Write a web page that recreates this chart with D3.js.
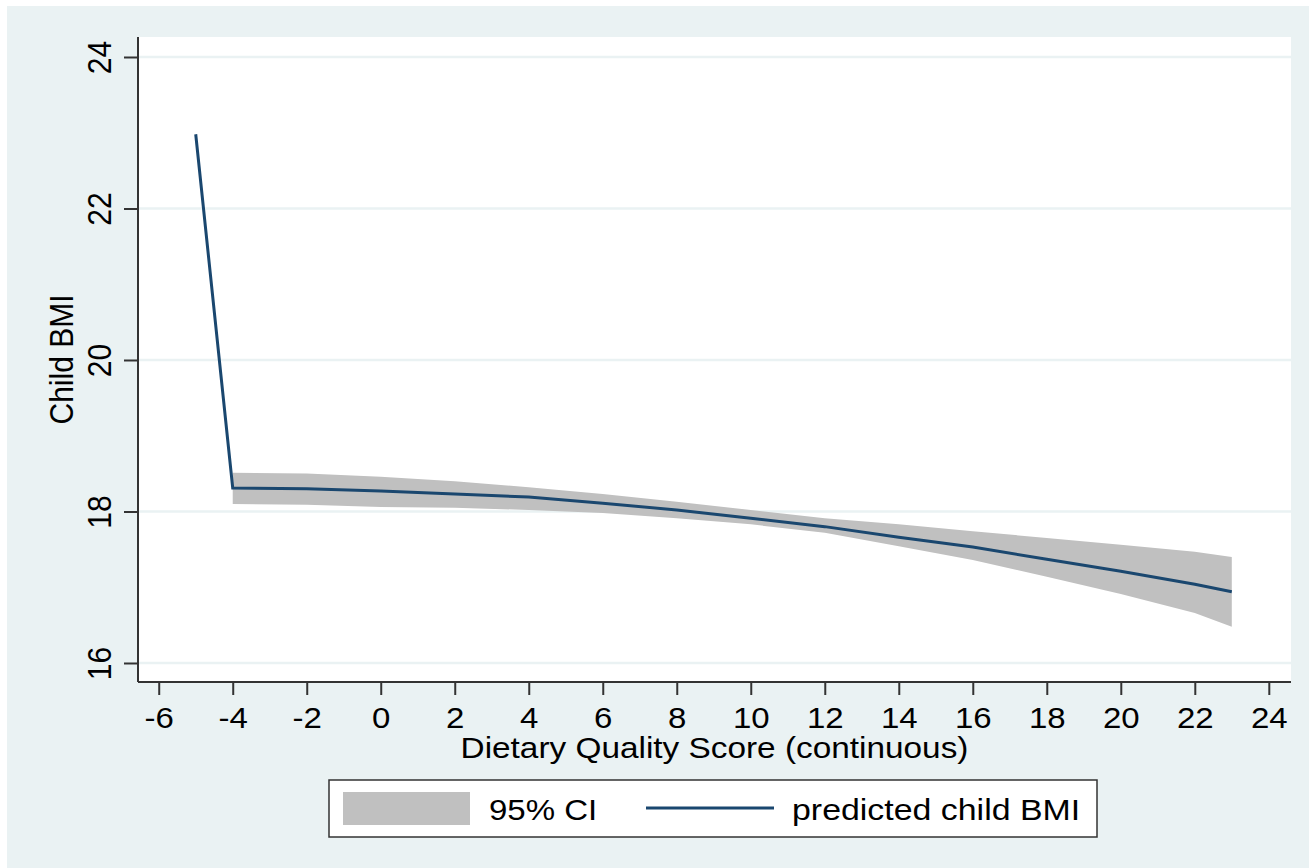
<!DOCTYPE html>
<html>
<head>
<meta charset="utf-8">
<script src="https://cdn.jsdelivr.net/npm/d3@7"></script>
<style>
  body { margin: 0; background: #ffffff; }
  text { font-family: "Liberation Sans", Arial, sans-serif; fill: #000; }
</style>
</head>
<body>
<div id="chart"></div>
<script>
// predicted line (score, child BMI)
const lineScore = [-5, -4, -2, 0, 2, 4, 6, 8, 10, 12, 14, 16, 18, 20, 22, 23];
const lineBMI   = [22.98, 18.31, 18.30, 18.27, 18.23, 18.19, 18.11, 18.02, 17.91, 17.80, 17.66, 17.53, 17.37, 17.21, 17.04, 16.94];

// 95% CI band
const ciScore = [-4, -2, 0, 2, 4, 6, 8, 10, 12, 14, 16, 18, 20, 22, 23];
const ciUpper = [18.51, 18.50, 18.46, 18.40, 18.32, 18.23, 18.13, 18.02, 17.91, 17.83, 17.74, 17.65, 17.56, 17.47, 17.40];
const ciLower = [18.10, 18.09, 18.06, 18.05, 18.02, 17.98, 17.91, 17.83, 17.72, 17.54, 17.36, 17.14, 16.91, 16.66, 16.48];

const xTicks = [-6, -4, -2, 0, 2, 4, 6, 8, 10, 12, 14, 16, 18, 20, 22, 24];
const yTicks = [16, 18, 20, 22, 24];

const legendLabels = ["95% CI", "predicted child BMI"];

// sizes
const W = 1309, H = 868;
const plot = {left: 138, right: 1291, top: 37, bottom: 682};
const stretch = 1.1; // text in the original is a bit wider than normal
const navy = "#1a476f", band = "#c0c0c0", bg = "#eaf2f3", axisCol = "#333333";

const svg = d3.select("#chart").append("svg")
  .attr("width", W)
  .attr("height", H);

// outer background
svg.append("rect")
  .attr("x", 7).attr("y", 6)
  .attr("width", W - 7).attr("height", H - 6)
  .attr("fill", bg);

// plot region
svg.append("rect")
  .attr("x", plot.left).attr("y", plot.top)
  .attr("width", plot.right - plot.left).attr("height", plot.bottom - plot.top)
  .attr("fill", "#ffffff");

const x = d3.scaleLinear()
  .domain([-6.56, 24.6])
  .range([plot.left, plot.right]);

const y = d3.scaleLinear()
  .domain([15.749, 24.264])
  .range([plot.bottom, plot.top]);

// gridlines
svg.append("g")
  .selectAll("line")
  .data(yTicks)
  .enter().append("line")
    .attr("x1", plot.left).attr("x2", plot.right)
    .attr("y1", d => y(d)).attr("y2", d => y(d))
    .attr("stroke", bg)
    .attr("stroke-width", 2.5);

// CI band
const ciData = ciScore.map((s, i) => ({s: s, lo: ciLower[i], hi: ciUpper[i]}));
svg.append("path")
  .datum(ciData)
  .attr("fill", band)
  .attr("d", d3.area()
    .x(d => x(d.s))
    .y0(d => y(d.lo))
    .y1(d => y(d.hi)));

// predicted line
const lineData = lineScore.map((s, i) => ({s: s, v: lineBMI[i]}));
svg.append("path")
  .datum(lineData)
  .attr("fill", "none")
  .attr("stroke", navy)
  .attr("stroke-width", 3)
  .attr("stroke-linejoin", "miter")
  .attr("d", d3.line()
    .x(d => x(d.s))
    .y(d => y(d.v)));

// X axis (plain hyphen for negatives, like the original)
const xAxis = svg.append("g")
  .attr("transform", `translate(0,${plot.bottom})`)
  .call(d3.axisBottom(x).tickValues(xTicks).tickSize(13).tickSizeOuter(0).tickFormat(d => String(d)));
xAxis.select(".domain").attr("stroke", axisCol).attr("stroke-width", 2)
  .attr("d", `M${plot.left},0H${plot.right}`);
xAxis.selectAll(".tick line").attr("stroke", axisCol).attr("stroke-width", 2);
xAxis.selectAll(".tick text")
  .attr("y", 46).attr("dy", 0)
  .attr("transform", `scale(${stretch},1)`)
  .style("font-size", "30px")
  .attr("fill", "#000");

// Y axis
const yAxis = svg.append("g")
  .attr("transform", `translate(${plot.left},0)`)
  .call(d3.axisLeft(y).tickValues(yTicks).tickSize(14).tickSizeOuter(0).tickFormat(d => String(d)));
yAxis.select(".domain").attr("stroke", axisCol).attr("stroke-width", 2)
  .attr("d", `M0,${plot.top}V${plot.bottom}`);
yAxis.selectAll(".tick line").attr("stroke", axisCol).attr("stroke-width", 2);
yAxis.selectAll(".tick text")
  .attr("x", 0).attr("y", 0).attr("dy", 0)
  .attr("text-anchor", "middle")
  .attr("transform", `translate(-27,0) scale(${stretch},1) rotate(-90)`)
  .style("font-size", "30px")
  .attr("fill", "#000");

// axis titles
svg.append("text")
  .attr("text-anchor", "middle")
  .attr("transform", `translate(${(plot.left + plot.right) / 2},758) scale(1.15,1)`)
  .style("font-size", "29px")
  .text("Dietary Quality Score (continuous)");

svg.append("text")
  .attr("text-anchor", "middle")
  .attr("transform", `translate(73,${(plot.top + plot.bottom) / 2}) scale(${stretch},1) rotate(-90)`)
  .style("font-size", "30px")
  .text("Child BMI");

// legend
const legend = svg.append("g");
legend.append("rect")
  .attr("x", 329).attr("y", 780)
  .attr("width", 768).attr("height", 57)
  .attr("fill", "#ffffff")
  .attr("stroke", axisCol)
  .attr("stroke-width", 1.5);
legend.append("rect")
  .attr("x", 343).attr("y", 792)
  .attr("width", 127).attr("height", 33)
  .attr("fill", band);
legend.append("line")
  .attr("x1", 646).attr("x2", 774)
  .attr("y1", 808).attr("y2", 808)
  .attr("stroke", navy)
  .attr("stroke-width", 3);
legend.append("text")
  .attr("transform", `translate(489,820) scale(${stretch},1)`)
  .style("font-size", "30px")
  .text(legendLabels[0]);
legend.append("text")
  .attr("transform", `translate(792,820) scale(1.13,1)`)
  .style("font-size", "30px")
  .text(legendLabels[1]);
</script>
</body>
</html>
